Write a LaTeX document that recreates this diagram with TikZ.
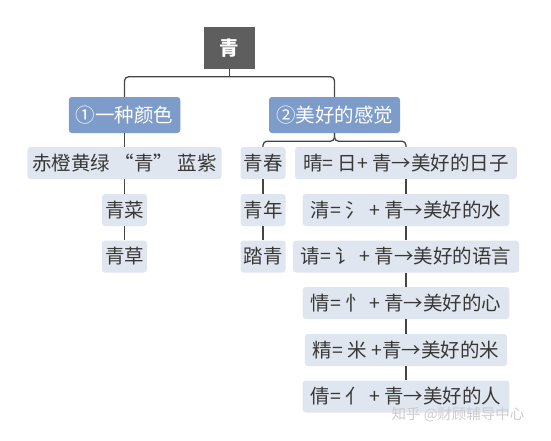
\documentclass[tikz,border=0pt]{standalone}
\usepackage{fontspec}
\setmainfont{Noto Sans CJK SC}
\usetikzlibrary{positioning}
\definecolor{rootgray}{HTML}{5E5E5E}
\definecolor{branchblue}{HTML}{7D9CCA}
\definecolor{leafgray}{HTML}{E0E6EF}
\definecolor{inkgray}{HTML}{383838}
\definecolor{linegray}{HTML}{454545}
\newcommand{\bigtxt}{\fontsize{19.5}{21}\selectfont}

\begin{document}
\begin{tikzpicture}[on grid,
		root/.style={rectangle,fill=rootgray,text=white,minimum width=51pt,minimum height=42pt,font=\bigtxt\bfseries},
		branch/.style={rectangle,rounded corners=3pt,fill=branchblue,text=white,minimum height=36pt,inner xsep=7pt,font=\bigtxt},
		leaf/.style={rectangle,rounded corners=3pt,fill=leafgray,text=inkgray,minimum height=32pt,inner xsep=3pt,font=\bigtxt},
		sense/.style={leaf,inner xsep=8pt},
		conn/.style={draw=linegray,line width=1.3pt,rounded corners=4pt}]
		\useasboundingbox (0,0) rectangle (551pt,-440pt);
		\node[root]   (qing)                                      at (229.5pt,-48pt) {青};
		\node[branch] (c1)     [below left=67pt and 105pt of qing]  {①一种颜色};
		\node[branch] (c2)     [below right=67pt and 105pt of qing] {②美好的感觉};
		
		\node[leaf,inner xsep=5pt] (colors) [below=48pt of c1] {赤橙黄绿 “青” 蓝紫};
		\node[leaf]   (cai)    [below=47pt of colors]  {青菜};
		\node[leaf]   (cao)    [below=46.5pt of cai]   {青草};
		
		\node[leaf]   (chun)   [below left=48pt and 71.5pt of c2] {青春};
		\node[leaf]   (nian)   [below=47pt of chun]    {青年};
		\node[leaf]   (ta)     [below=46.5pt of nian]  {踏青};
		
		\node[sense]  (s1)     [right=143pt of chun]   {晴= 日+ 青→美好的日子};
		\node[sense]  (s2)     [below=47pt of s1]      {清= 氵 + 青→美好的水};
		\node[sense]  (s3)     [below=46.5pt of s2]    {请= 讠 + 青→美好的语言};
		\node[sense]  (s4)     [below=46.5pt of s3]    {情= 忄 + 青→美好的心};
		\node[sense]  (s5)     [below=47pt of s4]      {精= 米 +青→美好的米};
		\node[sense]  (s6)     [below=46.5pt of s5]    {倩= 亻 + 青→美好的人};
		
		\node[text=gray!40,font=\fontsize{14.5}{15}\selectfont] (mark) at (458pt,-415pt) {知乎 @财顾辅导中心};
		
		\draw[conn] (qing.south) -- ++(0,-8pt);
		\draw[conn] (c1.north) -- ++(0,20pt) -| (c2.north);
		\draw[conn] (c1.south) -- (colors.north);
		\draw[conn] (colors.south) -- (cai.north);
		\draw[conn] (cai.south) -- (cao.north);
		
		\draw[conn] (c2.south) -- ++(0,-8pt) -| (chun.north);
		\draw[conn] (c2.south) -- ++(0,-8pt) -| (s1.north);
		\draw[conn] (chun.south) -- (nian.north);
		\draw[conn] (nian.south) -- (ta.north);
		\draw[conn] (s1.south) -- (s2.north);
		\draw[conn] (s2.south) -- (s3.north);
		\draw[conn] (s3.south) -- (s4.north);
		\draw[conn] (s4.south) -- (s5.north);
		\draw[conn] (s5.south) -- (s6.north);
\end{tikzpicture}
\end{document}
